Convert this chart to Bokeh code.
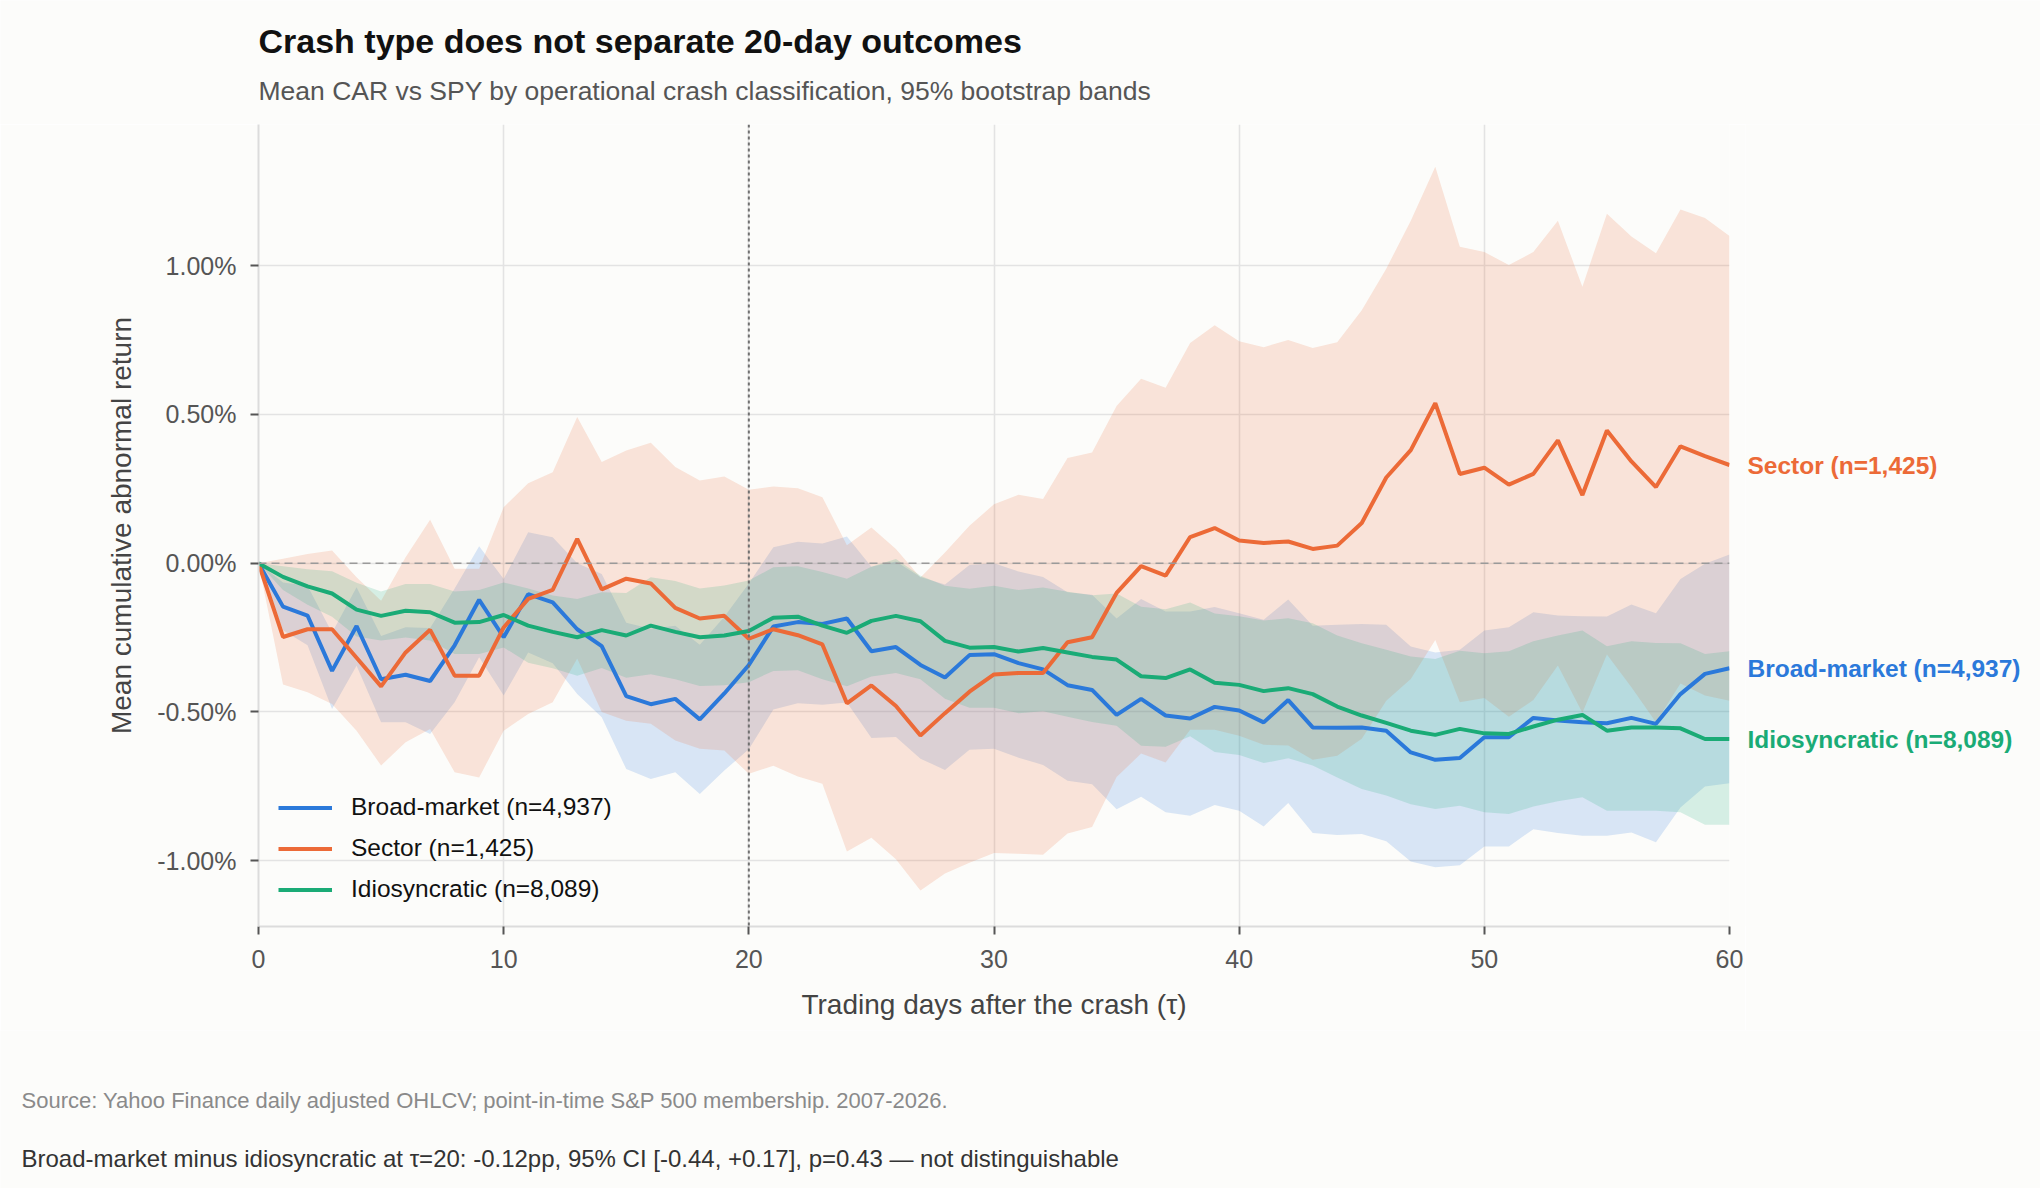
from bokeh.plotting import figure
from bokeh.layouts import column, row
from bokeh.models import Range1d, Span, Label, PrintfTickFormatter, FixedTicker
from bokeh.embed import file_html
from bokeh.resources import INLINE

# ---------------- data (CAR in %, by trading day after crash) ----------------
tau = list(range(61))

broad_mean = [0, -0.146, -0.176, -0.362, -0.211, -0.39, -0.375, -0.396, -0.276, -0.123, -0.249,
              -0.104, -0.132, -0.222, -0.279, -0.447, -0.474, -0.456, -0.525, -0.438, -0.342,
              -0.213, -0.198, -0.204, -0.186, -0.296, -0.282, -0.342, -0.384, -0.309, -0.306,
              -0.336, -0.357, -0.41, -0.426, -0.51, -0.456, -0.512, -0.522, -0.483, -0.495,
              -0.535, -0.46, -0.552, -0.553, -0.552, -0.563, -0.636, -0.661, -0.655, -0.585,
              -0.585, -0.52, -0.529, -0.535, -0.538, -0.52, -0.54, -0.44, -0.372, -0.353]
broad_lo = [0, -0.225, -0.276, -0.49, -0.345, -0.535, -0.535, -0.574, -0.467, -0.316, -0.445,
            -0.30, -0.336, -0.44, -0.518, -0.692, -0.725, -0.703, -0.776, -0.697, -0.625,
            -0.492, -0.471, -0.476, -0.468, -0.588, -0.584, -0.657, -0.695, -0.627, -0.624,
            -0.654, -0.678, -0.731, -0.743, -0.827, -0.785, -0.837, -0.849, -0.813, -0.832,
            -0.885, -0.806, -0.907, -0.914, -0.91, -0.935, -1.003, -1.022, -1.015, -0.952,
            -0.952, -0.894, -0.907, -0.916, -0.916, -0.905, -0.938, -0.821, -0.751, -0.74]
broad_hi = [0, -0.065, -0.076, -0.234, -0.081, -0.245, -0.215, -0.218, -0.085, 0.057, -0.053,
            0.104, 0.087, 0.0, -0.036, -0.2, -0.22, -0.21, -0.274, -0.18, -0.068,
            0.054, 0.072, 0.066, 0.09, -0.012, 0.006, -0.046, -0.072, -0.006, 0.0,
            -0.028, -0.046, -0.098, -0.106, -0.186, -0.12, -0.162, -0.162, -0.147, -0.168,
            -0.19, -0.122, -0.21, -0.207, -0.204, -0.207, -0.28, -0.30, -0.291, -0.226,
            -0.215, -0.165, -0.176, -0.178, -0.179, -0.139, -0.168, -0.053, -0.002, 0.029]

sector_mean = [0, -0.248, -0.222, -0.222, -0.318, -0.414, -0.30, -0.224, -0.378, -0.378, -0.216,
               -0.12, -0.09, 0.082, -0.088, -0.052, -0.068, -0.15, -0.186, -0.177, -0.254,
               -0.222, -0.242, -0.273, -0.471, -0.411, -0.48, -0.579, -0.504, -0.432, -0.374,
               -0.369, -0.369, -0.266, -0.249, -0.10, -0.01, -0.042, 0.088, 0.118, 0.076,
               0.068, 0.073, 0.048, 0.059, 0.135, 0.288, 0.38, 0.538, 0.30, 0.321,
               0.264, 0.30, 0.413, 0.229, 0.446, 0.342, 0.256, 0.393, 0.36, 0.33]
sector_lo = [0, -0.408, -0.434, -0.473, -0.563, -0.68, -0.602, -0.557, -0.703, -0.72, -0.563,
             -0.507, -0.467, -0.32, -0.50, -0.53, -0.54, -0.596, -0.624, -0.63, -0.708,
             -0.681, -0.717, -0.741, -0.969, -0.923, -0.995, -1.1, -1.043, -1.007, -0.974,
             -0.977, -0.98, -0.909, -0.887, -0.719, -0.64, -0.67, -0.56, -0.56, -0.58,
             -0.61, -0.613, -0.661, -0.647, -0.59, -0.462, -0.389, -0.258, -0.467, -0.453,
             -0.516, -0.46, -0.344, -0.503, -0.307, -0.417, -0.535, -0.404, -0.445, -0.462]
sector_hi = [0, 0.015, 0.031, 0.043, -0.047, -0.126, 0.02, 0.146, -0.019, -0.019, 0.188,
             0.269, 0.306, 0.491, 0.34, 0.379, 0.405, 0.323, 0.278, 0.291, 0.247,
             0.258, 0.252, 0.222, 0.06, 0.12, 0.048, -0.048, 0.036, 0.126, 0.198,
             0.23, 0.216, 0.354, 0.372, 0.528, 0.62, 0.59, 0.74, 0.80, 0.746,
             0.726, 0.75, 0.723, 0.743, 0.85, 0.99, 1.151, 1.333, 1.064, 1.046,
             1.002, 1.046, 1.151, 0.929, 1.175, 1.098, 1.042, 1.189, 1.16, 1.10]

idio_mean = [0, -0.046, -0.078, -0.102, -0.156, -0.177, -0.16, -0.165, -0.20, -0.198, -0.174,
             -0.21, -0.231, -0.249, -0.225, -0.243, -0.21, -0.231, -0.249, -0.243, -0.228,
             -0.183, -0.18, -0.21, -0.234, -0.194, -0.177, -0.195, -0.261, -0.284, -0.282,
             -0.297, -0.285, -0.30, -0.315, -0.324, -0.38, -0.386, -0.357, -0.402, -0.409,
             -0.43, -0.42, -0.44, -0.482, -0.512, -0.537, -0.563, -0.577, -0.557, -0.572,
             -0.574, -0.549, -0.526, -0.51, -0.563, -0.552, -0.552, -0.555, -0.591, -0.591]
idio_lo = [0, -0.09, -0.14, -0.18, -0.246, -0.26, -0.25, -0.26, -0.305, -0.305, -0.283,
           -0.335, -0.353, -0.378, -0.352, -0.385, -0.373, -0.39, -0.413, -0.41, -0.40,
           -0.362, -0.36, -0.39, -0.414, -0.381, -0.369, -0.39, -0.456, -0.486, -0.486,
           -0.504, -0.498, -0.516, -0.534, -0.546, -0.614, -0.617, -0.582, -0.635, -0.645,
           -0.672, -0.656, -0.68, -0.72, -0.759, -0.781, -0.81, -0.826, -0.815, -0.837,
           -0.843, -0.818, -0.80, -0.787, -0.832, -0.832, -0.832, -0.837, -0.879, -0.879]
idio_hi = [0, -0.01, -0.02, -0.027, -0.066, -0.095, -0.07, -0.07, -0.095, -0.09, -0.065,
           -0.085, -0.109, -0.12, -0.098, -0.10, -0.047, -0.06, -0.085, -0.075, -0.058,
           -0.014, -0.01, -0.03, -0.052, -0.012, 0.014, -0.042, -0.076, -0.086, -0.076,
           -0.09, -0.082, -0.096, -0.108, -0.102, -0.146, -0.155, -0.132, -0.169, -0.178,
           -0.193, -0.185, -0.202, -0.243, -0.269, -0.291, -0.314, -0.322, -0.294, -0.303,
           -0.296, -0.262, -0.243, -0.226, -0.279, -0.262, -0.268, -0.269, -0.305, -0.296]

series_names = ["Broad-market (n=4,937)", "Sector (n=1,425)", "Idiosyncratic (n=8,089)"]
x_ticks = [0, 10, 20, 30, 40, 50, 60]
y_ticks = [-1.0, -0.5, 0.0, 0.5, 1.0]

TITLE = "Crash type does not separate 20-day outcomes"
SUBTITLE = "Mean CAR vs SPY by operational crash classification, 95% bootstrap bands"
SOURCE = "Source: Yahoo Finance daily adjusted OHLCV; point-in-time S&P 500 membership. 2007-2026."
NOTE = ("Broad-market minus idiosyncratic at \u03c4=20: -0.12pp, 95% CI [-0.44, +0.17], "
        "p=0.43 \u2014 not distinguishable")

# ---------------- layout / style ----------------
W = 2040
HEAD_H = 124          # space above the plot frame
FL, FW, FH = 258, 1471, 802
MAIN_RB = 16          # right border of main figure (room for the "60" tick label)
MAIN_BB = 104         # bottom border (x axis)
FOOT_H = 158
X0, X1 = 0, 60
Y0, Y1 = -1.2212, 1.4746
BG = "#fcfcfa"
FONT = "Liberation Sans"
BLUE, ORANGE, GREEN = "#2b79da", "#ec6a37", "#1aab76"


def blank(width, height, x_range=None, y_range=None):
    f = figure(width=width, height=height, output_backend="svg", toolbar_location=None,
               x_range=x_range if x_range is not None else Range1d(0, width),
               y_range=y_range if y_range is not None else Range1d(0, height),
               x_axis_location=None, y_axis_location=None,
               min_border_left=0, min_border_right=0, min_border_top=0, min_border_bottom=0)
    f.grid.visible = False
    f.background_fill_color = BG
    f.border_fill_color = BG
    f.outline_line_color = None
    return f


# header
head = blank(W, HEAD_H)
head.add_layout(Label(x=FL, y=HEAD_H - 40, text=TITLE, text_font=FONT, text_font_size="34px",
                      text_font_style="bold", text_color="#111111", text_baseline="alphabetic"))
head.add_layout(Label(x=FL, y=HEAD_H - 90, text=SUBTITLE, text_font=FONT, text_font_size="26.5px",
                      text_color="#555555", text_baseline="alphabetic"))

# main plot
yr = Range1d(Y0, Y1)
MAIN_W = FL + FW + MAIN_RB
MAIN_H = FH + MAIN_BB
p = figure(width=MAIN_W, height=MAIN_H, x_range=Range1d(X0, X1), y_range=yr,
           output_backend="svg", toolbar_location=None,
           min_border_left=FL, min_border_right=MAIN_RB,
           min_border_top=0, min_border_bottom=MAIN_BB)
p.background_fill_color = BG
p.border_fill_color = BG
p.outline_line_color = None

for lo, hi, c in [(broad_lo, broad_hi, BLUE), (sector_lo, sector_hi, ORANGE), (idio_lo, idio_hi, GREEN)]:
    p.varea(x=tau, y1=lo, y2=hi, fill_color=c, fill_alpha=0.17)

p.add_layout(Span(location=0, dimension="width", line_color="#9a9a9a", line_width=1.6,
                  line_dash="8 5"))
p.add_layout(Span(location=20, dimension="height", line_color="#707070", line_width=2,
                  line_dash="3 3"))

means = [broad_mean, sector_mean, idio_mean]
colors = [BLUE, ORANGE, GREEN]
for m, c, n in zip(means, colors, series_names):
    p.line(tau, m, line_color=c, line_width=4, legend_label=n)

p.xaxis.ticker = FixedTicker(ticks=x_ticks)
p.yaxis.ticker = FixedTicker(ticks=y_ticks)
p.yaxis.formatter = PrintfTickFormatter(format="%.2f%%")
for ax in (p.xaxis, p.yaxis):
    ax.axis_line_color = "#dcdcdc"
    ax.axis_line_width = 2
    ax.major_tick_line_color = "#555555"
    ax.major_tick_line_width = 2
    ax.major_tick_out = 8
    ax.major_tick_in = 0
    ax.minor_tick_line_color = None
    ax.major_label_text_font = FONT
    ax.major_label_text_font_size = "25px"
    ax.major_label_text_color = "#555555"
    ax.axis_label_text_font = FONT
    ax.axis_label_text_font_size = "28px"
    ax.axis_label_text_font_style = "normal"
    ax.axis_label_text_color = "#444444"
p.xaxis.major_label_standoff = 15
p.yaxis.major_label_standoff = 14
p.xaxis.axis_label = "Trading days after the crash (\u03c4)"
p.yaxis.axis_label = "Mean cumulative abnormal return"
p.xaxis.axis_label_standoff = 18
p.yaxis.axis_label_standoff = 17

p.xgrid.ticker = FixedTicker(ticks=x_ticks)
p.ygrid.ticker = FixedTicker(ticks=y_ticks)
for g in (p.xgrid, p.ygrid):
    g.grid_line_color = "#e3e3e3"
    g.grid_line_width = 1.6

lg = p.legend[0]
lg.location = (20, 23)
lg.background_fill_alpha = 0
lg.border_line_alpha = 0
lg.padding = 0
lg.margin = 0
lg.spacing = 13
lg.glyph_width = 54
lg.glyph_height = 25
lg.label_height = 25
lg.label_standoff = 19
lg.label_text_font = FONT
lg.label_text_font_size = "24.5px"
lg.label_text_color = "#111111"

# end-of-line labels, sharing the main plot's y scale
RIGHT_W = W - MAIN_W
side = blank(RIGHT_W, MAIN_H, y_range=yr)
side.min_border_bottom = MAIN_BB
for m, c, n in zip(means, colors, series_names):
    side.add_layout(Label(x=2, y=m[-1], text=n, text_color=c, text_font=FONT,
                          text_font_size="24.5px", text_font_style="bold",
                          text_baseline="middle", text_align="left"))

# footer
foot = blank(W, FOOT_H)
foot.add_layout(Label(x=21, y=FOOT_H - 70, text=SOURCE, text_font=FONT, text_font_size="22px",
                      text_color="#8a8a8a", text_baseline="alphabetic"))
foot.add_layout(Label(x=21, y=FOOT_H - 128, text=NOTE, text_font=FONT, text_font_size="24px",
                      text_color="#333333", text_baseline="alphabetic"))

layout = column(head, row(p, side), foot)
open("out.html", "w").write(file_html(layout, INLINE))
